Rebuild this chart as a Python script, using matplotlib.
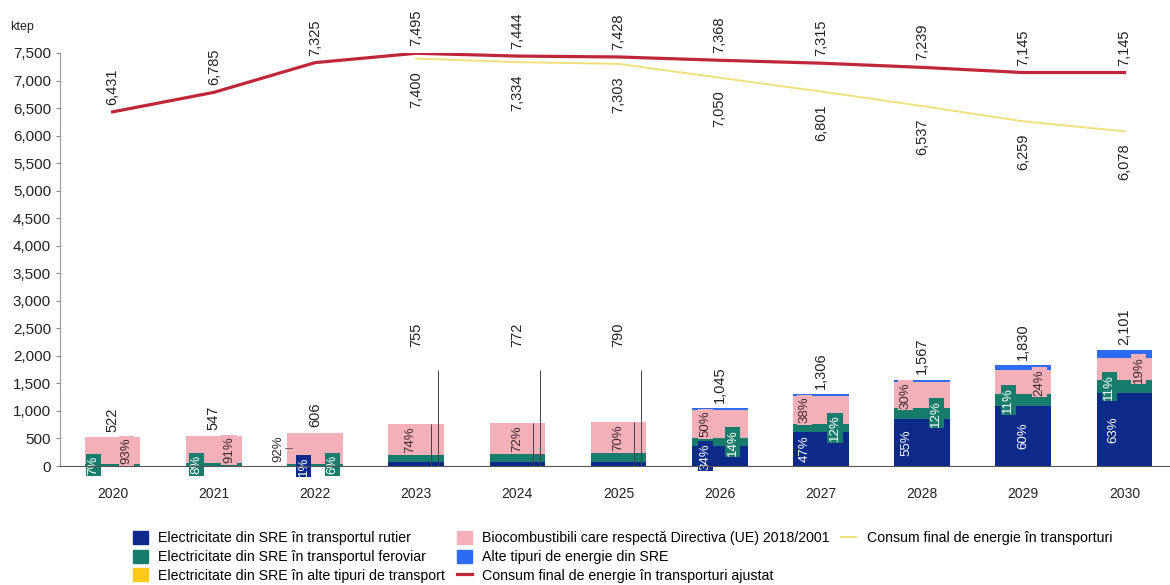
import numpy as np
import matplotlib.pyplot as plt
from matplotlib.patches import Patch
from matplotlib.lines import Line2D
from matplotlib.ticker import FuncFormatter

plt.rcParams['font.family'] = ['Liberation Sans', 'DejaVu Sans']

years = ['2020', '2021', '2022', '2023', '2024', '2025', '2026', '2027', '2028', '2029', '2030']
total_sre = [522, 547, 606, 755, 772, 790, 1045, 1306, 1567, 1830, 2101]

# shares of the RES total, in %
road_pct = [0, 1, 1, 9, 9, 9, 34, 47, 55, 60, 63]
rail_pct = [7, 8, 6, 17, 19, 21, 14, 12, 12, 11, 11]
other_tr_pct = [0, 0, 0, 0, 0, 0, 0, 0, 0, 0, 0]
bio_pct = [93, 91, 92, 74, 72, 70, 50, 38, 30, 24, 19]
other_sre_pct = [0, 0, 1, 0, 0, 0, 2, 3, 3, 5, 7]

final_cons = [None, None, None, 7400, 7334, 7303, 7050, 6801, 6537, 6259, 6078]
final_cons_adj = [6431, 6785, 7325, 7495, 7444, 7428, 7368, 7315, 7239, 7145, 7145]

C_ROAD = '#0b2a8a'
C_RAIL = '#177c6c'
C_OTR = '#ffc914'
C_BIO = '#f4b0b8'
C_OSRE = '#2d6cf2'
C_ADJ = '#c0263a'
C_FIN = '#efe07c'

# label x shifts inside each bar (None = no label)
road_dx = [None, None, -0.11, None, None, None, -0.14, -0.16, -0.16, 0.0, -0.11]
rail_dx = [-0.19, -0.17, 0.17, None, None, None, 0.13, 0.14, 0.14, -0.15, -0.15]
bio_dx = [0.14, 0.15, -0.36, -0.06, 0.0, 0.0, -0.14, -0.16, -0.16, 0.16, 0.14]
leader_years = [3, 4, 5]
LEADER_TOP = 1750

fig = plt.figure(figsize=(11.7, 5.85), dpi=100)
ax = fig.add_axes([60 / 1170, 1 - 466 / 585, 1110 / 1170, 413 / 585])

x = np.arange(len(years))
tot = np.array(total_sre, dtype=float)
w = 0.55

bottom = np.zeros(len(x))
segs = {}
for name, pct, col in [('road', road_pct, C_ROAD), ('rail', rail_pct, C_RAIL),
                       ('otr', other_tr_pct, C_OTR), ('bio', bio_pct, C_BIO),
                       ('osre', other_sre_pct, C_OSRE)]:
    h = tot * np.array(pct) / 100
    ax.bar(x, h, w, bottom=bottom, color=col, linewidth=0, zorder=2)
    segs[name] = (bottom.copy(), h)
    bottom = bottom + h

# percentage labels at segment middles
def pct_labels(name, pct, dx, fc, tc, boxed_inside_only=False):
    b, h = segs[name]
    for i in range(len(x)):
        if dx[i] is None:
            continue
        box = dict(boxstyle='square,pad=0.12', fc=fc, ec='none')
        if boxed_inside_only and abs(dx[i]) > 0.3:
            box = None
        ax.text(x[i] + dx[i], b[i] + h[i] / 2, f'{pct[i]}%', rotation=90,
                ha='center', va='center', fontsize=9.5, color=tc, bbox=box,
                zorder=5)

pct_labels('road', road_pct, road_dx, C_ROAD, 'white')
pct_labels('rail', rail_pct, rail_dx, C_RAIL, 'white')
pct_labels('bio', bio_pct, bio_dx, C_BIO, '#3a2a2e', boxed_inside_only=True)

# leader line for the 2022 biofuel label
ax.plot([x[2] - 0.3, x[2] - 0.23], [segs['bio'][0][2] + segs['bio'][1][2] / 2] * 2,
        color='#555', lw=0.6, zorder=4)

# leader lines on 2023-2025
for i in leader_years:
    ax.vlines(x[i] + 0.22, 0, LEADER_TOP, color='#444', lw=0.7, zorder=4)
    ax.vlines(x[i] + 0.15, 0, tot[i], color='#444', lw=0.7, zorder=4)

# totals above bars
for i in range(len(x)):
    if i in leader_years:
        ax.annotate(f'{total_sre[i]:,}', (x[i], LEADER_TOP), xytext=(0, 16),
                    textcoords='offset points', rotation=90, ha='center',
                    va='bottom', fontsize=10.5, color='#222')
    else:
        ax.annotate(f'{total_sre[i]:,}', (x[i], total_sre[i]), xytext=(0, 4),
                    textcoords='offset points', rotation=90, ha='center',
                    va='bottom', fontsize=10.5, color='#222')

# consumption lines
fin = np.array([np.nan if v is None else v for v in final_cons], dtype=float)
ax.plot(x, fin, color=C_FIN, lw=1.4, zorder=3)
ax.plot(x, final_cons_adj, color=C_ADJ, lw=2.3, zorder=4)

for i in range(len(x)):
    ax.annotate(f'{final_cons_adj[i]:,}', (x[i], final_cons_adj[i]), xytext=(0, 5),
                textcoords='offset points', rotation=90, ha='center',
                va='bottom', fontsize=10.5, color='#222')
    if final_cons[i] is not None:
        ax.annotate(f'{final_cons[i]:,}', (x[i], final_cons[i]), xytext=(0, -9),
                    textcoords='offset points', rotation=90, ha='center',
                    va='top', fontsize=10.5, color='#222')

ax.set_xlim(-0.52, 10.45)
ax.set_ylim(0, 7500)
ax.set_yticks(np.arange(0, 7501, 500))
ax.yaxis.set_major_formatter(FuncFormatter(lambda v, p: f'{v:,.0f}'))
ax.set_xticks(x, years)
ax.tick_params(axis='x', length=0, pad=15, labelsize=10, labelcolor='#222')
ax.tick_params(axis='y', length=3, color='#888', labelsize=11, labelcolor='#222')
for s in ['top', 'right']:
    ax.spines[s].set_visible(False)
ax.spines['left'].set_color('#999')
ax.spines['bottom'].set_color('#555')
ax.spines['bottom'].set_zorder(6)

fig.text(10 / 1170, 1 - 27 / 585, 'ktep', fontsize=9, va='center', color='#222')

blank = Line2D([], [], alpha=0)
handles = [
    Patch(color=C_ROAD, label='Electricitate din SRE în transportul rutier'),
    Patch(color=C_RAIL, label='Electricitate din SRE în transportul feroviar'),
    Patch(color=C_OTR, label='Electricitate din SRE în alte tipuri de transport'),
    Patch(color=C_BIO, label='Biocombustibili care respectă Directiva (UE) 2018/2001'),
    Patch(color=C_OSRE, label='Alte tipuri de energie din SRE'),
    Line2D([], [], color=C_ADJ, lw=2.3, label='Consum final de energie în transporturi ajustat'),
    Line2D([], [], color=C_FIN, lw=1.4, label='Consum final de energie în transporturi'),
    blank, blank,
]
labels = [h.get_label() if h is not blank else ' ' for h in handles]
fig.legend(handles, labels, ncol=3, loc='upper left',
           bbox_to_anchor=(133 / 1170, 1 - 531 / 585), frameon=False,
           fontsize=10.2, handlelength=1.05, handleheight=1.05, handletextpad=0.75,
           columnspacing=0.8, labelspacing=0.3, borderpad=0, borderaxespad=0)

fig.savefig('out.png', dpi=100)
